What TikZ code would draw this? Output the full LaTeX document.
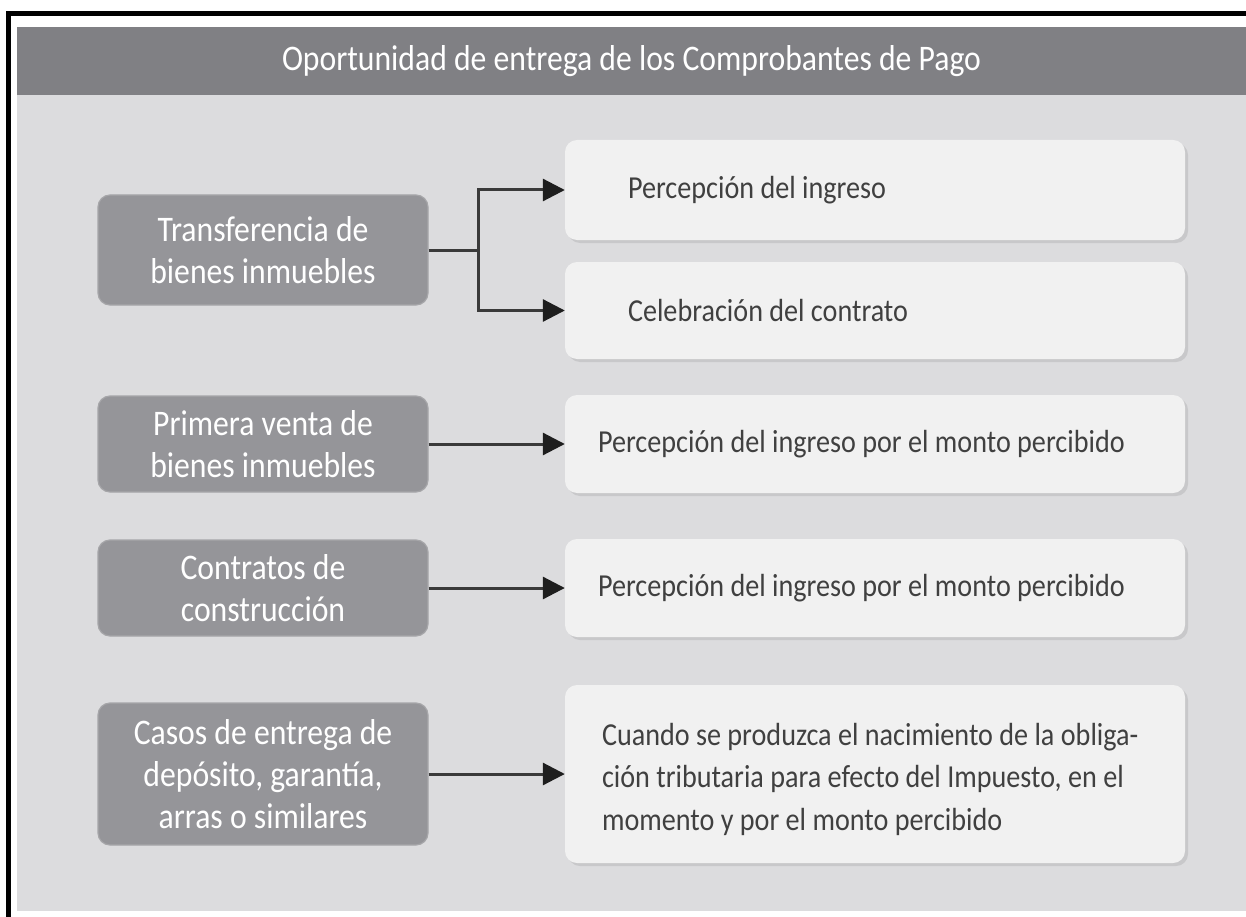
\documentclass[tikz,border=0pt]{standalone}
\usepackage{fontspec}
\setmainfont[FakeStretch=0.88]{Carlito}
\usetikzlibrary{arrows.meta}
\definecolor{headc}{HTML}{808084}
\definecolor{panelc}{HTML}{DCDCDE}
\definecolor{leftc}{HTML}{959599}
\definecolor{leftrim}{HTML}{A6A6A9}
\definecolor{rightc}{HTML}{F1F1F1}
\definecolor{shadowc}{HTML}{C8C8CA}
\definecolor{linec}{HTML}{3A3A3A}
\definecolor{tipc}{HTML}{1E1E1E}
\definecolor{txtc}{HTML}{404040}
\tikzset{
  headbar/.style={fill=headc, minimum width=1229pt, minimum height=68pt, inner sep=0pt,
    text=white, font=\fontsize{36}{42}\selectfont},
  leftbox/.style={fill=leftc, draw=leftrim, line width=1.2pt, rounded corners=12pt,
    minimum width=330pt, inner sep=0pt, align=center, text=white,
    font=\fontsize{36}{42}\selectfont},
  rightbox/.style={fill=rightc, rounded corners=12pt, minimum width=620pt, inner sep=0pt,
    preaction={fill=shadowc, transform canvas={xshift=3pt,yshift=-3pt}}},
  rtext/.style={anchor=west, inner sep=0pt, text=txtc, align=left,
    font=\fontsize{32}{42.5}\selectfont},
  conn/.style={draw=linec, line width=3pt},
  arr/.style={conn, -{Triangle[length=22pt,width=22pt,color=tipc]}}
}
\begin{document}
\begin{tikzpicture}[x=1pt,y=-1pt]
\useasboundingbox (0,0) rectangle (1246,917);
\fill[white] (0,0) rectangle (1246,917);
% frame
\fill[black] (6,11) rectangle (1246,16);
\fill[black] (6,11) rectangle (11,917);
% panel
\fill[panelc] (17,27) rectangle (1246,911);
\node[headbar] (hdr) at (631.5,61) {Oportunidad de entrega de los Comprobantes de Pago};
% left boxes
\node[leftbox, minimum height=110pt] (l1) at (263,250) {Transferencia de\\bienes inmuebles};
\node[leftbox, minimum height=96pt] (l2) at (263,444) {Primera venta de\\bienes inmuebles};
\node[leftbox, minimum height=96pt] (l3) at (263,588) {Contratos de\\construcción};
\node[leftbox, minimum height=142pt] (l4) at (263,774) {Casos de entrega de\\depósito, garantía,\\arras o similares};
% right boxes
\node[rightbox, minimum height=100pt] (r1) at (875,190) {};
\node[rightbox, minimum height=97pt] (r2) at (875,310.5) {};
\node[rightbox, minimum height=98pt] (r3) at (875,444) {};
\node[rightbox, minimum height=98pt] (r4) at (875,588) {};
\node[rightbox, minimum height=178pt] (r5) at (875,774) {};
\node[rtext] (t1) at ([xshift=63pt]r1.west) {Percepción del ingreso};
\node[rtext] (t2) at ([xshift=63pt]r2.west) {Celebración del contrato};
\node[rtext] (t3) at ([xshift=33pt]r3.west) {Percepción del ingreso por el monto percibido};
\node[rtext] (t4) at ([xshift=33pt]r4.west) {Percepción del ingreso por el monto percibido};
\node[rtext] (t5) at ([xshift=37pt,yshift=-5pt]r5.west) {Cuando se produzca el nacimiento de la obliga-\\ción tributaria para efecto del Impuesto, en el\\momento y por el monto percibido};
% connectors
\coordinate (j) at (478,250);
\draw[conn] (l1.east) -- (j);
\draw[arr] (j) |- (r1.west);
\draw[arr] (j) |- (r2.west);
\draw[arr] (l2.east) -- (r3.west);
\draw[arr] (l3.east) -- (r4.west);
\draw[arr] (l4.east) -- (r5.west);
\end{tikzpicture}
\end{document}
